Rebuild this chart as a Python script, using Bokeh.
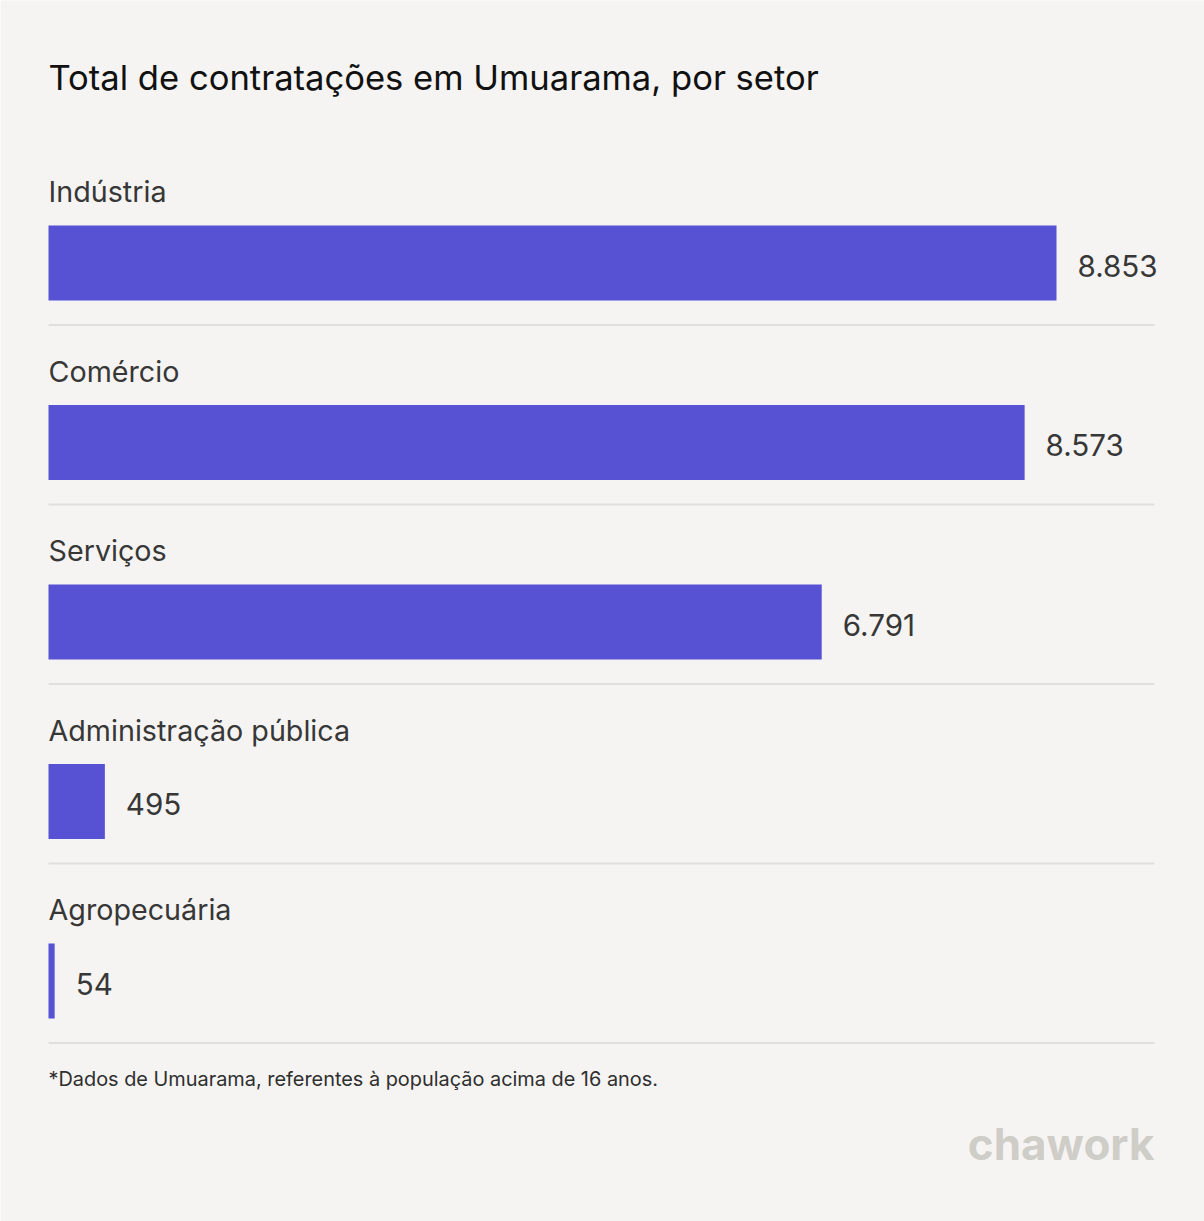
from bokeh.plotting import figure
from bokeh.models import Range1d, ColumnDataSource, Label
from bokeh.core.properties import value
from bokeh.embed import file_html
from bokeh.resources import INLINE

categories = ["Indústria", "Comércio", "Serviços", "Administração pública", "Agropecuária"]
values = [8853, 8573, 6791, 495, 54]
value_labels = ["8.853", "8.573", "6.791", "495", "54"]

title_text = "Total de contratações em Umuarama, por setor"
footnote_text = "*Dados de Umuarama, referentes à população acima de 16 anos."
logo_text = "chawork"

W, H = 1204, 1221
LEFT, RIGHT = 48, 1154
MAX_BAR_PX = 1008
ppu = MAX_BAR_PX / max(values)
FIRST_CENTER = 262.5
STEP = 179.5
BAR_H = 75

BG = "#f5f4f2"
BAR = "#5751d4"
TXT = "#373737"
FONT = "Inter"

centers = [FIRST_CENTER + i * STEP for i in range(len(categories))]
src = ColumnDataSource(dict(
    cat=categories, val=values, lab=value_labels, y=centers,
    ycat=[c - 71.5 for c in centers],
    yval=[c + 2.6 for c in centers],
    ysep=[c + 62 for c in centers],
    zero=[0] * len(values),
    xend=[(RIGHT - LEFT) / ppu] * len(values),
))

p = figure(width=W, height=H, output_backend="svg", toolbar_location=None,
           x_range=Range1d(-LEFT / ppu, (W - LEFT) / ppu), y_range=Range1d(H, 0),
           min_border=0, outline_line_color=None,
           background_fill_color=BG, border_fill_color=BG)
p.axis.visible = False
p.grid.visible = False

p.segment(x0="zero", x1="xend", y0="ysep", y1="ysep", source=src,
          line_color="#e1dfdc", line_width=2)
p.hbar(y="y", left=0, right="val", height=BAR_H, source=src,
       fill_color=BAR, line_color=None)
p.text(x="zero", y="ycat", text="cat", source=src, text_font=value(FONT),
       text_font_size="28.7px", text_color=TXT, text_baseline="alphabetic")
p.text(x="val", y="yval", text="lab", source=src, text_font=value(FONT),
       text_font_size="29.6px", text_color=TXT, text_baseline="alphabetic",
       x_offset=21)

p.add_layout(Label(x=0, y=76, text=title_text, text_font=FONT, text_font_size="34.6px",
                   text_color="#111111", text_baseline="alphabetic"))
p.add_layout(Label(x=0, y=1078, text=footnote_text, text_font=FONT, text_font_size="19.9px",
                   text_color="#2f2f2f", text_baseline="alphabetic"))
p.add_layout(Label(x=(RIGHT - LEFT) / ppu, y=1143, text=logo_text, text_font=FONT,
                   text_font_size="44px", text_color="#cfcdc8", text_font_style="bold",
                   text_align="right", text_baseline="alphabetic"))

open("out.html", "w").write(file_html(p, INLINE))
